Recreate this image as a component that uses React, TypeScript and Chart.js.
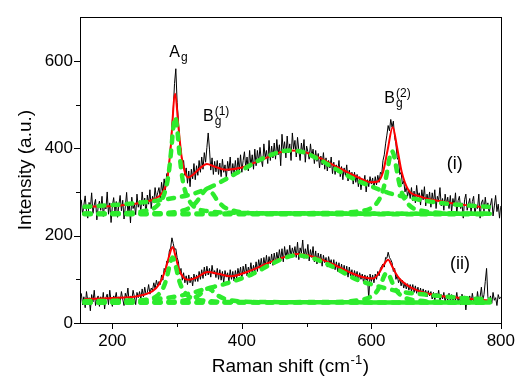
import React, { useEffect, useRef } from "react";
import { Chart, registerables } from "chart.js";
Chart.register(...registerables);

const FONT = "'Liberation Sans', Arial, Helvetica, sans-serif";

// Measured spectra, sampled every 2 cm-1 starting at 152 cm-1
const RAW_START = 152;
const RAW_STEP = 2;
const rawI = [
  282, 248, 270, 291, 255, 240, 276, 262, 298, 251, 270, 283, 236, 265, 279,
  258, 290, 244, 272, 261, 300, 249, 275, 230, 268, 287, 255, 278, 242, 270,
  292, 257, 281, 238, 266, 299, 252, 276, 229, 288, 262, 271, 248, 295, 265,
  280, 255, 300, 268, 286, 246, 293, 272, 305, 262, 290, 278, 310, 285, 298,
  310, 285, 322, 298, 330, 305, 342, 338, 372, 410, 452, 488, 548, 582, 505,
  462, 410, 398, 360, 372, 338, 355, 320, 348, 312, 352, 330, 365, 328, 360,
  338, 372, 345, 380, 352, 390, 368, 402, 435, 398, 350, 378, 340, 370, 346,
  372, 340, 366, 335, 375, 345, 362, 330, 370, 348, 380, 338, 365, 342, 372,
  340, 378, 350, 385, 345, 372, 392, 355, 380, 348, 395, 360, 385, 352, 398,
  360, 395, 368, 402, 375, 358, 410, 380, 395, 365, 418, 372, 405, 378, 412,
  375, 420, 385, 408, 360, 432, 395, 415, 378, 428, 390, 410, 372, 435, 398,
  418, 380, 425, 395, 372, 412, 388, 420, 368, 405, 392, 375, 410, 380, 398,
  365, 395, 370, 388, 355, 382, 362, 390, 352, 378, 348, 372, 355, 380, 342,
  368, 340, 362, 345, 372, 335, 358, 328, 355, 338, 362, 325, 350, 330, 345,
  318, 345, 322, 340, 312, 335, 305, 330, 318, 338, 300, 328, 312, 335, 318,
  332, 308, 335, 316, 338, 322, 345, 340, 372, 385, 410, 430, 452, 440, 466,
  448, 462, 425, 410, 378, 372, 340, 345, 318, 325, 300, 312, 290, 305, 285,
  310, 280, 302, 275, 315, 288, 298, 270, 305, 282, 312, 268, 295, 278, 300,
  265, 298, 275, 305, 262, 290, 280, 310, 268, 285, 258, 295, 272, 288, 262,
  292, 255, 285, 268, 298, 250, 280, 290, 262, 275, 240, 282, 295, 258, 272,
  285, 252, 278, 290, 248, 270, 262, 295, 240, 275, 282, 255, 288, 262, 275,
  250, 270, 285, 245, 268, 292, 255, 272, 240, 268,
];
const rawII = [
  68, 42, 60, 35, 72, 50, 58, 28, 65, 48, 75, 40, 55, 62, 38,
  60, 45, 70, 32, 58, 66, 42, 75, 50, 38, 62, 55, 70, 45, 60,
  48, 72, 55, 40, 68, 58, 80, 45, 62, 52, 75, 60, 42, 70, 58,
  72, 55, 78, 60, 82, 65, 70, 88, 66, 80, 75, 92, 78, 98, 85,
  95, 88, 110, 98, 125, 118, 142, 138, 165, 172, 195, 182, 168, 170, 150,
  140, 112, 125, 98, 115, 92, 108, 88, 110, 92, 105, 85, 112, 95, 110,
  95, 118, 100, 122, 102, 128, 108, 130, 110, 125, 105, 132, 112, 120, 104,
  125, 100, 122, 98, 118, 92, 120, 105, 115, 95, 122, 100, 118, 96, 120,
  102, 125, 108, 128, 100, 130, 112, 135, 108, 128, 115, 138, 112, 132, 118,
  140, 118, 145, 125, 148, 122, 150, 130, 155, 128, 152, 135, 158, 132, 160,
  138, 162, 142, 168, 145, 170, 140, 175, 150, 168, 148, 178, 152, 172, 158,
  175, 150, 185, 145, 172, 160, 190, 148, 170, 152, 180, 142, 168, 150, 175,
  140, 165, 135, 160, 142, 158, 130, 155, 138, 150, 128, 152, 135, 145, 125,
  145, 122, 140, 118, 138, 115, 135, 112, 132, 110, 130, 105, 128, 108, 122,
  100, 120, 105, 118, 95, 115, 100, 112, 92, 110, 98, 108, 55, 112, 95,
  110, 92, 112, 100, 118, 108, 125, 130, 135, 128, 150, 148, 162, 150, 145,
  138, 118, 125, 100, 110, 92, 102, 85, 98, 80, 92, 78, 90, 75, 88,
  72, 88, 70, 85, 68, 82, 65, 80, 62, 78, 66, 75, 60, 74, 62,
  72, 55, 70, 52, 68, 58, 75, 50, 65, 55, 70, 48, 64, 52, 68,
  50, 65, 45, 62, 52, 70, 48, 60, 42, 66, 55, 62, 30, 58, 48,
  62, 45, 68, 50, 58, 42, 72, 48, 60, 82, 50, 65, 95, 125, 60,
  48, 62, 45, 70, 52, 58, 40, 65, 55, 60,
];

// Fitted envelopes [Raman shift, intensity]
const fitI: [number, number][] = [
  [157, 266], [200, 268], [240, 274], [265, 284], [278, 300], [285, 330], [290, 400],
  [297, 525], [302, 450], [307, 380], [312, 345], [317, 333], [325, 340], [335, 354],
  [346, 364], [358, 358], [375, 351], [400, 356], [430, 373], [457, 390], [475, 395],
  [495, 392], [520, 378], [550, 355], [580, 333], [600, 322], [610, 324], [618, 345],
  [625, 395], [633, 448], [640, 400], [647, 345], [657, 305], [675, 290], [713, 277],
  [750, 269], [780, 264],
];
const fitII: [number, number][] = [
  [157, 55], [200, 57], [240, 62], [262, 73], [272, 88], [282, 122], [288, 155],
  [293, 174], [298, 150], [303, 122], [310, 104], [318, 99], [330, 104], [347, 117],
  [365, 112], [383, 107], [410, 118], [440, 137], [470, 153], [485, 158], [510, 152],
  [540, 135], [570, 114], [590, 104], [603, 102], [612, 115], [619, 133], [626, 145],
  [632, 130], [640, 108], [647, 96], [660, 82], [672, 74], [700, 63], [734, 58],
  [770, 53], [780, 52],
];

// Component peaks of spectrum (i)
const baseI: [number, number][] = [[157, 249], [783, 249]];
const agI: [number, number][] = [
  [157, 250], [200, 251], [247, 256], [272, 273], [282, 304], [287, 343], [291, 397],
  [294, 446], [297, 471], [300, 446], [303, 397], [307, 343], [312, 304], [322, 273],
  [347, 256], [400, 252], [500, 251], [783, 250],
];
const b1I: [number, number][] = [
  [157, 250], [267, 251], [307, 257], [322, 266], [331, 279], [339, 296], [347, 308],
  [355, 296], [363, 279], [372, 266], [387, 257], [427, 251], [783, 250],
];
const broadI: [number, number][] = [
  [157, 266], [210, 271], [257, 278], [290, 285], [323, 295], [350, 310], [375, 329],
  [400, 350], [430, 375], [457, 391], [475, 395], [495, 391], [520, 374], [550, 348],
  [580, 325], [601, 312], [626, 298], [657, 287], [700, 276], [740, 270], [783, 266],
];
const b2I: [number, number][] = [
  [157, 250], [450, 251], [532, 252], [582, 256], [607, 272], [617, 299], [622, 328],
  [626, 360], [629, 383], [632, 393], [635, 383], [638, 360], [642, 328], [647, 299],
  [657, 272], [682, 256], [732, 251], [783, 250],
];

// Component peaks of spectrum (ii)
const baseII: [number, number][] = [[157, 47], [783, 47]];
const agII: [number, number][] = [
  [157, 47.5], [193, 48], [243, 51], [268, 61], [278, 79], [283, 98], [287, 123],
  [290, 141], [293, 150], [296, 141], [299, 123], [303, 98], [308, 79], [318, 61],
  [343, 51], [393, 48], [783, 47],
];
const b1II: [number, number][] = [
  [157, 47], [268, 48], [308, 51], [323, 55.5], [333, 63], [340, 72], [348, 79],
  [356, 72], [363, 63], [373, 55.5], [388, 51], [428, 48], [783, 47],
];
const broadII: [number, number][] = [
  [157, 50], [210, 51], [252, 53], [300, 61], [323, 69], [344, 78], [375, 90],
  [416, 112], [447, 136], [470, 151], [485, 155], [500, 152], [518, 144], [549, 122],
  [575, 101], [601, 88], [641, 73], [683, 65], [734, 58], [770, 55], [783, 54],
];
const b2II: [number, number][] = [
  [157, 47], [524, 48], [574, 51], [599, 60], [609, 73.5], [614, 87], [618, 101],
  [621, 111], [624, 115], [627, 111], [630, 101], [634, 87], [639, 73.5], [649, 60],
  [674, 51], [724, 48], [783, 47],
];

const X_MAJOR = [200, 400, 600, 800];
const X_MINOR = [300, 500, 700];
const Y_MAJOR = [0, 200, 400, 600];
const Y_MINOR = [100, 300, 500];

const peakLabels = [
  { base: "A", sub: "g", sup: "", x: 288, y: 610 },
  { base: "B", sub: "g", sup: "(1)", x: 340, y: 462 },
  { base: "B", sub: "g", sup: "(2)", x: 620, y: 504 },
];
const seriesLabels = [
  { text: "(i)", x: 729, y: 364 },
  { text: "(ii)", x: 737, y: 136 },
];

export default function App() {
  const ref = useRef<HTMLCanvasElement>(null);
  useEffect(() => {
    const canvas = ref.current!;
    const rawPts = (ys: number[]) => ys.map((y, i) => ({ x: RAW_START + i * RAW_STEP, y }));
    const pts = (arr: [number, number][]) => arr.map(([x, y]) => ({ x, y }));
    const GREEN = "rgb(45,235,45)";
    const comp = (arr: [number, number][]) => ({
      data: pts(arr),
      borderColor: GREEN,
      borderWidth: 4.5,
      borderDash: [6, 8],
      borderCapStyle: "round" as const,
      cubicInterpolationMode: "monotone" as const,
      pointRadius: 0,
      fill: false,
      order: 1,
    });
    const raw = (ys: number[]) => ({
      data: rawPts(ys),
      borderColor: "#000",
      borderWidth: 1,
      pointRadius: 0,
      tension: 0,
      fill: false,
      order: 3,
    });
    const fit = (arr: [number, number][]) => ({
      data: pts(arr),
      borderColor: "#ff0000",
      borderWidth: 2,
      pointRadius: 0,
      cubicInterpolationMode: "monotone" as const,
      fill: false,
      order: 2,
    });

    const decor = {
      id: "decor",
      afterDraw(chart: any) {
        const ctx = chart.ctx as CanvasRenderingContext2D;
        const { left, right, top, bottom } = chart.chartArea;
        const xs = chart.scales.x;
        const ys = chart.scales.y;
        ctx.save();
        ctx.strokeStyle = "#000";
        ctx.lineWidth = 1;
        ctx.strokeRect(Math.round(left) + 0.5, Math.round(top) + 0.5, Math.round(right - left), Math.round(bottom - top));
        ctx.beginPath();
        const xt = (v: number, len: number) => {
          const p = Math.round(xs.getPixelForValue(v)) + 0.5;
          ctx.moveTo(p, bottom);
          ctx.lineTo(p, bottom + len);
        };
        const yt = (v: number, len: number) => {
          const p = Math.round(ys.getPixelForValue(v)) + 0.5;
          ctx.moveTo(left, p);
          ctx.lineTo(left - len, p);
        };
        X_MAJOR.forEach((v) => xt(v, 6));
        X_MINOR.forEach((v) => xt(v, 4));
        Y_MAJOR.forEach((v) => yt(v, 6));
        Y_MINOR.forEach((v) => yt(v, 4));
        ctx.stroke();

        ctx.fillStyle = "#000";
        peakLabels.forEach((l) => {
          const x = xs.getPixelForValue(l.x);
          const y = ys.getPixelForValue(l.y);
          ctx.font = `16px ${FONT}`;
          ctx.textAlign = "left";
          ctx.textBaseline = "alphabetic";
          ctx.fillText(l.base, x, y);
          const w = ctx.measureText(l.base).width;
          ctx.font = `12px ${FONT}`;
          if (l.sub) ctx.fillText(l.sub, x + w + 1, y + 4);
          if (l.sup) ctx.fillText(l.sup, x + w + 1, y - 6);
        });
        seriesLabels.forEach((l) => {
          ctx.font = `18px ${FONT}`;
          ctx.textAlign = "center";
          ctx.textBaseline = "middle";
          ctx.fillText(l.text, xs.getPixelForValue(l.x), ys.getPixelForValue(l.y));
        });

        ctx.save();
        ctx.font = `19px ${FONT}`;
        ctx.textAlign = "center";
        ctx.textBaseline = "middle";
        ctx.translate(26, (top + bottom) / 2);
        ctx.rotate(-Math.PI / 2);
        ctx.fillText("Intensity (a.u.)", 0, 0);
        ctx.restore();

        const t1 = "Raman shift (cm";
        const t2 = "-1";
        const t3 = ")";
        ctx.textAlign = "left";
        ctx.textBaseline = "alphabetic";
        ctx.font = `19px ${FONT}`;
        const w1 = ctx.measureText(t1).width;
        const w3 = ctx.measureText(t3).width;
        ctx.font = `13px ${FONT}`;
        const w2 = ctx.measureText(t2).width;
        const total = w1 + w2 + w3 + 1;
        const x0 = (left + right) / 2 - total / 2;
        const by = 372;
        ctx.font = `19px ${FONT}`;
        ctx.fillText(t1, x0, by);
        ctx.font = `13px ${FONT}`;
        ctx.fillText(t2, x0 + w1 + 0.5, by - 8);
        ctx.font = `19px ${FONT}`;
        ctx.fillText(t3, x0 + w1 + w2 + 1, by);
        ctx.restore();
      },
    };

    const chart = new Chart(canvas, {
      type: "line",
      data: {
        datasets: [
          comp(baseI), comp(agI), comp(b1I), comp(broadI), comp(b2I),
          comp(baseII), comp(agII), comp(b1II), comp(broadII), comp(b2II),
          fit(fitI), fit(fitII),
          raw(rawI), raw(rawII),
        ] as any,
      },
      options: {
        animation: false,
        responsive: false,
        layout: { padding: { left: 0, right: 19, top: 8, bottom: 0 } },
        plugins: { legend: { display: false }, tooltip: { enabled: false } },
        scales: {
          x: {
            type: "linear",
            min: 150,
            max: 800,
            grid: { display: false, drawTicks: false },
            border: { display: false },
            ticks: {
              stepSize: 200,
              includeBounds: false,
              autoSkip: false,
              maxRotation: 0,
              padding: 8,
              color: "#000",
              font: { family: FONT, size: 17 },
            },
            afterFit: (s: any) => { s.height = 58; },
          },
          y: {
            type: "linear",
            min: 0,
            max: 700,
            grid: { display: false, drawTicks: false },
            border: { display: false },
            ticks: {
              stepSize: 200,
              includeBounds: false,
              autoSkip: false,
              padding: 7,
              color: "#000",
              font: { family: FONT, size: 17 },
              callback: (v: any) => (Number(v) % 200 === 0 && Number(v) <= 600 ? String(v) : ""),
            },
            afterFit: (s: any) => { s.width = 80; },
          },
        },
      } as any,
      plugins: [decor],
    });
    return () => chart.destroy();
  }, []);
  return (
    <div style={{ position: "fixed", left: 0, top: 0, width: 523, height: 381, background: "#fff" }}>
      <canvas ref={ref} width={523} height={381} style={{ display: "block" }} />
    </div>
  );
}
